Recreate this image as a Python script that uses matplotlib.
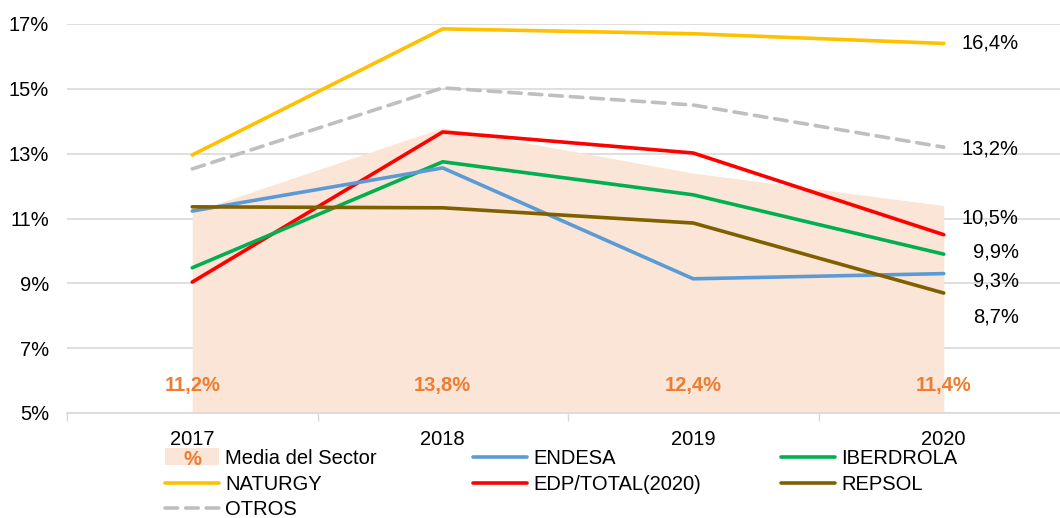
import matplotlib
matplotlib.use('Agg')
import matplotlib.pyplot as plt
import numpy as np
from matplotlib.legend_handler import HandlerBase
from matplotlib.patches import Rectangle, Patch
from matplotlib.text import Text

# datos
anios = ['2017', '2018', '2019', '2020']
media_sector = [11.2, 13.8, 12.4, 11.4]
naturgy = [12.96, 16.85, 16.7, 16.4]
otros = [12.53, 15.03, 14.5, 13.2]
edp_total = [9.04, 13.67, 13.02, 10.5]
iberdrola = [9.48, 12.75, 11.73, 9.9]
endesa = [11.23, 12.56, 9.14, 9.3]
repsol = [11.36, 11.33, 10.86, 8.7]
yticks = [5, 7, 9, 11, 13, 15, 17]

plt.rcParams['font.family'] = ['Liberation Sans', 'DejaVu Sans']
fs = 14.5

naranja = '#ED7D31'
melocoton = '#FBE5D6'


# handle de leyenda con el simbolo %
class HandlerPct(HandlerBase):
    def create_artists(self, legend, orig_handle, xdescent, ydescent,
                       width, height, fontsize, trans):
        r = Rectangle((-xdescent, -ydescent - height * 0.1), width, height * 1.2,
                      facecolor=melocoton, edgecolor='none', transform=trans)
        t = Text(-xdescent + width / 2, -ydescent + height / 2 - 2, '%',
                 color=naranja, ha='center', va='center', fontweight='bold',
                 fontsize=fontsize, transform=trans)
        return [r, t]


fig = plt.figure(figsize=(10.6, 5.18), dpi=100)
W, H = 1060, 518
ax = fig.add_axes([67 / W, 1 - 413 / H, (W - 67) / W, (413 - 24) / H])

x = np.arange(len(anios))

# area media del sector
ax.fill_between(x, 5, media_sector, color=melocoton, linewidth=0, zorder=1)
for xi, v in zip(x, media_sector):
    ax.text(xi, 5.85, '{:.1f}%'.format(v).replace('.', ','), ha='center', va='center',
            color=naranja, fontweight='bold', fontsize=fs, zorder=5)

lw = 2.6
series = [
    ('NATURGY', naturgy, '#FFC000', '-'),
    ('OTROS', otros, '#BFBFBF', '--'),
    ('EDP/TOTAL(2020)', edp_total, '#FF0000', '-'),
    ('IBERDROLA', iberdrola, '#00B050', '-'),
    ('ENDESA', endesa, '#5B9BD5', '-'),
    ('REPSOL', repsol, '#7F6000', '-'),
]
lineas = {}
for nombre, vals, col, ls in series:
    if ls == '--':
        l, = ax.plot(x, vals, color=col, lw=lw, dashes=(3.5, 2.2), dash_capstyle='round', zorder=3)
    else:
        l, = ax.plot(x, vals, color=col, lw=lw, solid_capstyle='round', zorder=3)
    lineas[nombre] = l

# etiquetas finales
desplaz = {'NATURGY': 0.0, 'OTROS': -0.05, 'EDP/TOTAL(2020)': 0.5,
           'IBERDROLA': 0.07, 'ENDESA': -0.23, 'REPSOL': -0.74}
for nombre, vals, col, ls in series:
    ax.text(3 + 75 / 250.5, vals[-1] + desplaz[nombre],
            '{:.1f}%'.format(vals[-1]).replace('.', ','),
            ha='right', va='center', fontsize=fs, color='#000000')

ax.set_yticks(yticks)
ax.set_yticklabels(['{}%'.format(v) for v in yticks])
ax.set_xticks(x)
ax.set_xticklabels(anios)
ax.set_xticks(np.arange(-0.5, 4, 1), minor=True)
ax.set_ylim(5, 17)
ax.set_xlim(-0.5, -0.5 + (W - 67) / 250.5)
ax.tick_params(axis='x', which='major', length=0, pad=12, labelsize=fs)
ax.tick_params(axis='x', which='minor', length=6, color='#D9D9D9', width=1)
ax.tick_params(axis='y', length=0, pad=13, labelsize=fs)

ax.grid(axis='y', color='#D9D9D9', lw=1.2, zorder=0)
ax.set_axisbelow(True)
for s in ['left', 'right', 'top']:
    ax.spines[s].set_visible(False)
ax.spines['bottom'].set_color('#D9D9D9')
ax.spines['bottom'].set_linewidth(1.2)
ax.spines['bottom'].set_zorder(4)

# leyenda en tres columnas
media_handle = Patch(facecolor=melocoton)
columnas = [
    (165, [(media_handle, 'Media del Sector'), (lineas['NATURGY'], 'NATURGY'),
           (lineas['OTROS'], 'OTROS')]),
    (473, [(lineas['ENDESA'], 'ENDESA'), (lineas['EDP/TOTAL(2020)'], 'EDP/TOTAL(2020)')]),
    (781, [(lineas['IBERDROLA'], 'IBERDROLA'), (lineas['REPSOL'], 'REPSOL')]),
]
for px, items in columnas:
    hs = [h for h, _ in items]
    ls_ = [t for _, t in items]
    fig.legend(hs, ls_, loc='upper left', bbox_to_anchor=(px / W, 1 - 449 / H),
               frameon=False, fontsize=fs, handlelength=2.7, handletextpad=0.3,
               borderpad=0, borderaxespad=0, labelspacing=0.33,
               handler_map={Patch: HandlerPct()})

fig.savefig('out.png', dpi=100)
